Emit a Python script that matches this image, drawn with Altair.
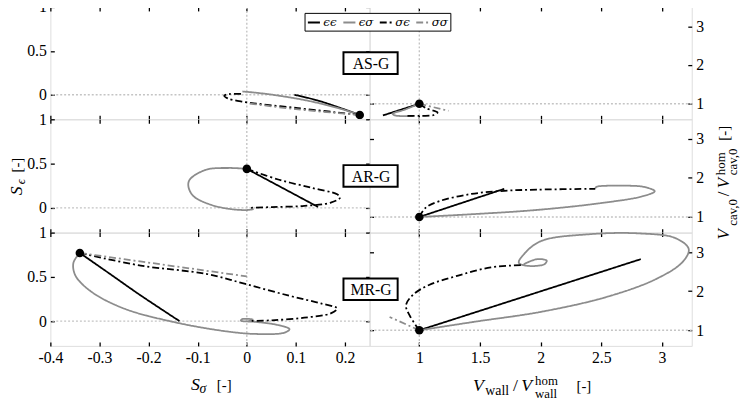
import altair as alt
import pandas as pd

SERIES = ["ϵϵ", "ϵσ", "σϵ", "σσ"]
COLORS = ["#000000", "#8c8c8c", "#000000", "#8c8c8c"]
DASHES = [[1, 0], [1, 0], [7, 3, 2, 3], [7, 3, 2, 3]]
PANELS = ["AS-G", "AR-G", "MR-G"]

X_TICKS_L = [-0.4, -0.3, -0.2, -0.1, 0, 0.1, 0.2]
Y_TICKS_L = [0, 0.5, 1]
X_TICKS_R = [1, 1.5, 2, 2.5, 3]
Y_TICKS_R = [1, 2, 3]

# start points (black dots)
START_L = [(0.23, -0.23), (0.0, 0.44), (-0.34, 0.77)]
START_R = [(1.0, 1.0), (1.0, 1.0), (1.0, 1.0)]

# ---- AS-G ----
AS_L_EE = [(0.23, -0.23), (0.19, -0.15), (0.144, -0.065), (0.097, 0.0)]
AS_L_ES = [(0.23, -0.23), (0.191, -0.16), (0.124, -0.068), (0.057, -0.004), (0.02, 0.022), (-0.009, 0.037)]
AS_L_SE = [(0.23, -0.23), (0.104, -0.153), (-0.009, -0.079), (-0.039, -0.041), (-0.046, -0.012), (-0.036, 0.008), (-0.006, 0.007)]
AS_L_SS = [(0.23, -0.23), (0.10, -0.165), (0.005, -0.1)]
AS_R_EE = [(1.0, 1.0), (0.70, 0.70)]
AS_R_ES = [(1.0, 1.0), (0.88, 0.85), (0.78, 0.74), (0.80, 0.70), (0.95, 0.68)]
AS_R_SE = [(1.0, 1.0), (1.06, 0.88), (1.15, 0.78), (1.12, 0.71), (1.0, 0.69), (0.88, 0.69)]
AS_R_SS = [(1.0, 1.0), (1.24, 0.82)]

# ---- AR-G ----
AR_L_EE = [(0.0, 0.44), (0.145, 0.01)]
AR_L_ES = [(0.0, 0.44), (-0.036, 0.45), (-0.083, 0.43), (-0.116, 0.32), (-0.119, 0.245), (-0.109, 0.134),
           (-0.076, 0.04), (-0.036, -0.012), (0.0, -0.025), (0.014, -0.015)]
AR_L_SE = [(0.0, 0.44), (0.064, 0.32), (0.131, 0.227), (0.184, 0.152), (0.19, 0.115), (0.171, 0.059),
           (0.117, 0.022), (0.051, 0.008), (0.005, 0.0)]
AR_R_EE = [(1.0, 1.0), (1.70, 1.72)]
AR_R_ES = [(1.0, 1.0), (1.43, 1.07), (1.97, 1.18), (2.51, 1.36), (2.84, 1.53), (2.94, 1.66), (2.85, 1.77),
           (2.65, 1.80), (2.46, 1.77), (2.45, 1.73)]
AR_R_SE = [(1.0, 1.0), (1.053, 1.24), (1.16, 1.40), (1.43, 1.59), (1.70, 1.67), (1.97, 1.70), (2.45, 1.72)]

# ---- MR-G ----
MR_L_EE = [(-0.34, 0.77), (-0.283, 0.55), (-0.216, 0.29), (-0.137, 0.0)]
MR_L_ES = [(-0.34, 0.77), (-0.353, 0.66), (-0.349, 0.515), (-0.316, 0.33), (-0.249, 0.14), (-0.149, -0.01),
           (-0.049, -0.11), (0.017, -0.145), (0.077, -0.13), (0.087, -0.09), (0.064, -0.045), (0.017, -0.008),
           (-0.012, 0.005), (-0.01, 0.022), (0.012, 0.018), (0.004, 0.002)]
MR_L_SE = [(-0.34, 0.77), (-0.216, 0.627), (-0.083, 0.534), (-0.003, 0.42), (0.084, 0.29), (0.151, 0.2),
           (0.184, 0.143), (0.171, 0.087), (0.117, 0.039), (0.051, 0.009), (0.004, 0.002)]
MR_L_SS = [(-0.34, 0.77), (0.0, 0.505)]
MR_R_EE = [(1.0, 1.0), (2.825, 2.82)]
MR_R_ES = [(1.0, 1.0), (1.46, 1.22), (2.0, 1.47), (2.54, 1.85), (2.95, 2.31), (3.17, 2.75), (3.22, 3.08),
           (3.11, 3.36), (2.81, 3.48), (2.41, 3.46), (2.0, 3.28), (1.86, 2.94), (1.82, 2.73), (1.89, 2.65),
           (2.03, 2.69), (2.05, 2.78), (1.97, 2.82), (1.86, 2.69)]
MR_R_SE = [(1.0, 1.0), (0.92, 1.38), (0.89, 1.64), (0.945, 1.90), (1.08, 2.16), (1.32, 2.40), (1.59, 2.61),
           (1.86, 2.67)]
MR_R_SS = [(1.0, 1.0), (0.755, 1.34)]

LEFT = [[AS_L_EE, AS_L_ES, AS_L_SE, AS_L_SS],
        [AR_L_EE, AR_L_ES, AR_L_SE, None],
        [MR_L_EE, MR_L_ES, MR_L_SE, MR_L_SS]]
RIGHT = [[AS_R_EE, AS_R_ES, AS_R_SE, AS_R_SS],
         [AR_R_EE, AR_R_ES, AR_R_SE, None],
         [MR_R_EE, MR_R_ES, MR_R_SE, MR_R_SS]]

X_DOM_L = [-0.4, 0.25]
Y_DOM_L = [-0.28, 1]
X_DOM_R = [0.59, 3.245]
Y_DOM_R = [0.6, 3.5]

W_L, W_R = 324, 327
HEIGHTS = [114, 115, 115]
SERIF = "Liberation Serif"
TICKFONT = "Liberation Serif"


def frame(lists):
    rows = []
    for s, pts in zip(SERIES, lists):
        if pts is None:
            continue
        for i, (x, y) in enumerate(pts):
            rows.append({"x": x, "y": y, "series": s, "i": i})
    return pd.DataFrame(rows)


def axis(orient, values, labels, expr=None):
    kw = dict(orient=orient, values=values, tickSize=4, offset=-4, domain=False, grid=False,
              labels=labels, ticks=True, tickColor="black", tickWidth=1.3, title=None,
              labelFont=TICKFONT, labelFontSize=16, labelColor="black", labelPadding=4,
              labelFlush=False, labelOverlap=False)
    if expr:
        kw["labelExpr"] = expr
    return alt.Axis(**kw)


LBL = "replace(format(datum.value, '~g'), '\u2212', '-')"
ONE = pd.DataFrame({"k": [0]})


def txt(s, x, y, size, italic=False, angle=0):
    kw = dict(text=s, font=SERIF, fontSize=size, color="black", align="left", baseline="alphabetic")
    if italic:
        kw["fontStyle"] = "italic"
    if angle:
        kw["angle"] = angle
    return alt.Chart(ONE).mark_text(**kw).encode(x=alt.value(x), y=alt.value(y))


color_scale = alt.Scale(domain=SERIES, range=COLORS)
dash_scale = alt.Scale(domain=SERIES, range=DASHES)
LEGEND = alt.Legend(orient="none", legendX=258, legendY=6, direction="horizontal", columns=4,
                    title=None, symbolType="stroke", symbolSize=150, symbolStrokeWidth=2,
                    labelFont="DejaVu Serif", labelFontStyle="italic", labelFontSize=12,
                    labelColor="black", columnPadding=2, labelOffset=2, padding=2,
                    strokeColor="black", fillColor="white")


def panel(row, side):
    left = side == "L"
    lists = LEFT[row] if left else RIGHT[row]
    start = START_L[row] if left else START_R[row]
    xs = alt.Scale(domain=X_DOM_L if left else X_DOM_R, nice=False, zero=False)
    ys = alt.Scale(domain=Y_DOM_L if left else Y_DOM_R, nice=False, zero=False)
    xt = X_TICKS_L if left else X_TICKS_R
    yt = Y_TICKS_L if left else Y_TICKS_R
    ref_x = 0 if left else 1
    ref_y = 0 if left else 1

    vrule = alt.Chart(ONE).mark_rule(color="#c4c4c4", strokeDash=[2, 2], strokeWidth=1.4).encode(
        x=alt.XDatum(ref_x, type="quantitative", scale=xs, axis=axis("top", xt, False)))
    hrule = alt.Chart(ONE).mark_rule(color="#c4c4c4", strokeDash=[2, 2], strokeWidth=1.4).encode(
        y=alt.YDatum(ref_y, type="quantitative", scale=ys,
                     axis=axis("right" if left else "left", yt, False)))
    leg = LEGEND if (row == 0 and left) else None
    lines = alt.Chart(frame(lists)).mark_line(strokeWidth=1.8, interpolate="catmull-rom").encode(
        x=alt.X("x:Q", scale=xs, axis=axis("bottom", xt, row == 2, LBL)),
        y=alt.Y("y:Q", scale=ys, axis=axis("left" if left else "right", yt, True, LBL)),
        color=alt.Color("series:N", scale=color_scale, legend=leg),
        strokeDash=alt.StrokeDash("series:N", scale=dash_scale, legend=leg),
        order="i:Q",
    )
    dots = alt.Chart(pd.DataFrame({"x": [start[0]], "y": [start[1]]})).mark_point(
        filled=True, size=75, color="black", opacity=1).encode(
        x=alt.X("x:Q", scale=xs, axis=None), y=alt.Y("y:Q", scale=ys, axis=None))
    layers = [vrule, hrule, lines, dots]
    if not left:
        cy = HEIGHTS[row] / 2
        box = alt.Chart(ONE).mark_rect(fill="white", stroke="black", strokeWidth=2).encode(
            x=alt.value(-26.5), x2=alt.value(28.5), y=alt.value(cy - 11), y2=alt.value(cy + 11))
        lab = alt.Chart(ONE).mark_text(text=PANELS[row], font=SERIF, fontSize=16, color="black",
                                       align="center", baseline="middle").encode(
            x=alt.value(1.5), y=alt.value(cy + 1))
        layers += [box, lab]
    if row == 1 and left:
        layers += [txt("S", -28.5, 77, 18, True, 270), txt("ϵ", -25.5, 66, 13, True, 270),
                   txt("[-]", -28.5, 54, 15, False, 270)]
    if row == 1 and not left:
        layers += [txt("V", 365.3, 122, 17, True, 270), txt("cav,0", 372.5, 108, 13, False, 270),
                   txt("/", 365.3, 78, 17, False, 270), txt("V", 365.3, 70, 17, True, 270),
                   txt("hom", 361, 56.7, 13, False, 270), txt("cav,0", 373, 56.7, 13, False, 270),
                   txt("[-]", 365.3, 21.7, 15, False, 270)]
    if row == 2 and left:
        layers += [txt("S", 142.7, 160, 18, True), txt("σ", 151.5, 163, 14, True),
                   txt("[-]", 169, 160, 15)]
    if row == 2 and not left:
        layers += [txt("V", 105, 161, 18, True), txt("wall", 117.5, 164.5, 14),
                   txt("/", 145.5, 161, 18), txt("V", 154, 161, 18, True),
                   txt("hom", 168, 154.5, 13), txt("wall", 168, 167.5, 13),
                   txt("[-]", 210, 161, 15)]
    return alt.layer(*layers).properties(width=W_L if left else W_R, height=HEIGHTS[row])


cells = []
for r in range(3):
    cells += [panel(r, "L"), panel(r, "R")]

chart = alt.concat(*cells, columns=2, spacing=0, bounds="flush").properties(
    padding={"left": 0, "top": -13, "right": 0, "bottom": 0}
).configure_view(stroke="black", strokeWidth=2).configure_axis(
    labelFont=TICKFONT, labelFontSize=16, labelColor="black"
).configure_legend(strokeWidth=2).configure(background="white")

chart.save("out.html", embed_options={"renderer": "svg", "actions": False})
